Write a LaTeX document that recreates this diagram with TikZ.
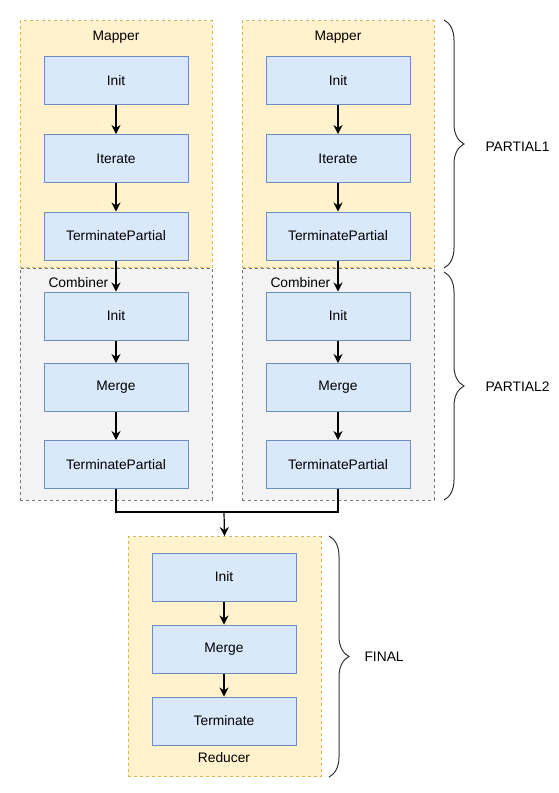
\documentclass[tikz,border=0pt]{standalone}
\usepackage{fontspec}
\setmainfont{Liberation Sans}
\usetikzlibrary{arrows.meta,decorations.pathreplacing}
\definecolor{boxfill}{HTML}{DAE8FC}
\definecolor{boxline}{HTML}{6C8EBF}
\definecolor{mapfill}{HTML}{FFF2CC}
\definecolor{mapline}{HTML}{D6B656}
\definecolor{combfill}{HTML}{F3F3F3}
\definecolor{combline}{HTML}{777777}
\tikzset{
  stepbox/.style={draw=boxline,fill=boxfill,line width=1pt,minimum width=144pt,minimum height=48pt,inner sep=0pt},
  mapbox/.style={draw=mapline,fill=mapfill,line width=0.9pt,dash pattern=on 3pt off 3pt,minimum width=192pt,inner sep=0pt},
  combbox/.style={draw=combline,fill=combfill,line width=0.9pt,dash pattern=on 3pt off 3pt,minimum width=192pt,inner sep=0pt},
  flow/.style={-{Stealth[length=9pt,width=9pt,inset=3pt]},line width=1.2pt},
  curly/.style={decorate,decoration={brace,amplitude=20pt},line width=1pt,draw=black!80},
  lbl/.style={font=\fontsize{13.8}{16}\selectfont}
}
\begin{document}
\begin{tikzpicture}[x=1pt,y=-1pt,every node/.style={lbl}]
\useasboundingbox (0,0) rectangle (559,793);
% containers
\node[mapbox,minimum height=247pt] (lmap) at (116,144) {};
\node[mapbox,minimum height=247pt] (rmap) at (338,144) {};
\node[combbox,minimum height=232pt] (lcomb) at (116,384) {};
\node[combbox,minimum height=232pt] (rcomb) at (338,384) {};
\node[mapbox,minimum height=240pt,minimum width=193pt] (red) at (224.5,656.5) {};
\node (lmaptxt) at (116,37) {Mapper};
\node (rmaptxt) at (338,37) {Mapper};
\node[anchor=west] (lcombtxt) at (45,283) {Combiner};
\node[anchor=west] (rcombtxt) at (267,283) {Combiner};
\node (redtxt) at (224,758) {Reducer};
% left column
\node[stepbox] (linit) at (116,80.5) {Init};
\node[stepbox] (liter) at (116,158.5) {Iterate};
\node[stepbox] (ltp) at (116,236) {TerminatePartial};
\node[stepbox] (lcinit) at (116,316) {Init};
\node[stepbox] (lmerge) at (116,387.5) {Merge};
\node[stepbox] (lctp) at (116,464.5) {TerminatePartial};
% right column
\node[stepbox] (rinit) at (338,80.5) {Init};
\node[stepbox] (riter) at (338,158.5) {Iterate};
\node[stepbox] (rtp) at (338,236) {TerminatePartial};
\node[stepbox] (rcinit) at (338,316) {Init};
\node[stepbox] (rmerge) at (338,387.5) {Merge};
\node[stepbox] (rctp) at (338,464.5) {TerminatePartial};
% reducer
\node[stepbox] (finit) at (224,577) {Init};
\node[stepbox] (fmerge) at (224,649) {Merge};
\node[stepbox] (fterm) at (224,721) {Terminate};
\coordinate (join) at (224,512);

\draw[flow] (linit) -- (liter);
\draw[flow] (liter) -- (ltp);
\draw[flow] (ltp) -- (lcinit);
\draw[flow] (lcinit) -- (lmerge);
\draw[flow] (lmerge) -- (lctp);
\draw[flow] (rinit) -- (riter);
\draw[flow] (riter) -- (rtp);
\draw[flow] (rtp) -- (rcinit);
\draw[flow] (rcinit) -- (rmerge);
\draw[flow] (rmerge) -- (rctp);
\draw[line width=1.2pt] (lctp.south) |- (join) -| (rctp.south);
\draw[flow] (join) -- (red.north);
\draw[flow] (finit) -- (fmerge);
\draw[flow] (fmerge) -- (fterm);

% braces
\draw[curly] (444,20) -- (444,268);
\draw[curly] (444,272) -- (444,500);
\draw[curly] (329,536) -- (329,777);
\node[anchor=west] (p1) at (482,147) {PARTIAL1};
\node[anchor=west] (p2) at (482,387) {PARTIAL2};
\node[anchor=west] (fin) at (361,657) {FINAL};
\end{tikzpicture}
\end{document}
